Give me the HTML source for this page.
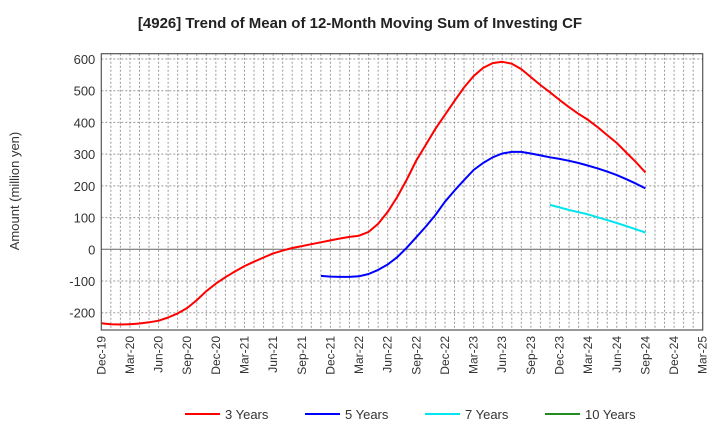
<!DOCTYPE html>
<html><head><meta charset="utf-8"><style>
body{margin:0;background:#fff;font-family:"Liberation Sans",sans-serif;}
</style></head><body>
<svg id="chart" width="720" height="440" xmlns="http://www.w3.org/2000/svg">
<text x="360" y="28" text-anchor="middle" font-size="15" font-weight="bold" fill="#222">[4926]  Trend of Mean of 12-Month Moving Sum of Investing CF</text>
<text transform="translate(19,191) rotate(-90)" text-anchor="middle" font-size="13" fill="#333">Amount (million yen)</text>
<g id="grid"></g><g id="series"></g><g id="axes"></g>
<g id="legend"></g>
</svg>
<script>
const xLabels=["Dec-19","Mar-20","Jun-20","Sep-20","Dec-20","Mar-21","Jun-21","Sep-21","Dec-21","Mar-22","Jun-22","Sep-22","Dec-22","Mar-23","Jun-23","Sep-23","Dec-23","Mar-24","Jun-24","Sep-24","Dec-24","Mar-25"];
const yTicks=[-200,-100,0,100,200,300,400,500,600];
const seriesNames=["3 Years","5 Years","7 Years","10 Years"];
const seriesColors=["#ff0000","#0000ff","#00e5ee","#228b22"];
const seriesStart=[0,23,47,0];
const y3=[-233,-236,-237,-236,-234,-230,-225,-215,-202,-185,-160,-132,-108,-88,-70,-53,-39,-26,-13,-4,4,10,16,22,28,34,39,43,55,80,118,165,220,280,330,380,424,468,510,546,572,587,591,585,568,543,518,495,471,448,427,408,385,360,335,305,275,242];
const y5=[-84,-86,-87,-87,-85,-78,-65,-48,-25,5,38,72,108,150,185,218,250,272,290,302,307,307,302,296,290,285,279,272,264,255,245,234,221,207,192];
const y7=[140,132,124,117,110,101,92,83,73,63,53];
const y10=[];
const L=101.3,R=702.7,T=53.7,B=330;
const months=63;
const xs=m=>L+(R-L)*m/months;
const ys=v=>249.3-v*0.3172;
const NS="http://www.w3.org/2000/svg";
function mk(t,a,p){const e=document.createElementNS(NS,t);for(const k in a)e.setAttribute(k,a[k]);p.appendChild(e);return e;}
const grid=document.getElementById('grid'),axes=document.getElementById('axes'),ser=document.getElementById('series'),leg=document.getElementById('legend');
for(let m=1;m<months;m++){const l=mk('line',{x1:xs(m),x2:xs(m),y1:T,y2:B,stroke:'#999','stroke-dasharray':'2,2','stroke-width':1},grid);

}
yTicks.forEach(v=>{const l=mk('line',{x1:L,x2:R,y1:ys(v),y2:ys(v),stroke:v===0?'#666':'#999','stroke-dasharray':v===0?'none':'2,2','stroke-width':1},grid);


const t=mk('text',{x:L-6,y:ys(v)+5,'text-anchor':'end','font-size':13,fill:'#333'},axes);t.textContent=v;

});
const fr=mk('rect',{x:L,y:T,width:R-L,height:B-T,fill:'none',stroke:'#555','stroke-width':1.2},axes);


xLabels.forEach((s,i)=>{const x=xs(i*3);const t=mk('text',{transform:`translate(${x+4},${B+6}) rotate(-90)`,'text-anchor':'end','font-size':12,fill:'#333'},axes);t.textContent=s;

});
[y3,y5,y7,y10].forEach((d,i)=>{if(!d.length)return;const pts=d.map((v,j)=>xs(seriesStart[i]+j).toFixed(1)+','+ys(v).toFixed(1)).join(' ');
const p=mk('polyline',{points:pts,fill:'none',stroke:seriesColors[i],'stroke-width':2,'stroke-linejoin':'round'},ser);

});
const lx=[185,305,425,545];
seriesNames.forEach((n,i)=>{const g=mk('g',{},leg);


mk('line',{x1:lx[i],x2:lx[i]+35,y1:414,y2:414,stroke:seriesColors[i],'stroke-width':2},g);
const t=mk('text',{x:lx[i]+40,y:419,'font-size':13,fill:'#333'},g);t.textContent=n;});
</script>
</body></html>
